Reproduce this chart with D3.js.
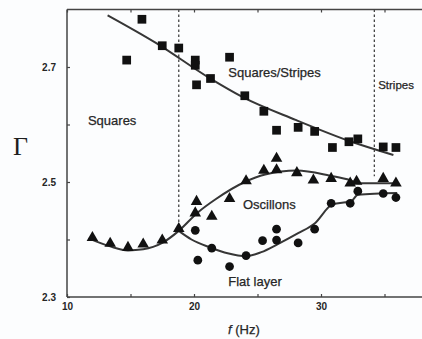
<!DOCTYPE html>
<html>
<head>
<meta charset="utf-8">
<script src="https://cdn.jsdelivr.net/npm/d3@7/dist/d3.min.js"></script>
<style>
  html, body { margin: 0; padding: 0; background: #fcfdfe; }
  svg { display: block; }
</style>
</head>
<body>
<svg id="chart" width="422" height="339"></svg>
<script>
// ---------- data ----------
const squaresF = [14.7, 15.9, 17.5, 18.8, 20.1, 20.1, 20.2, 21.3, 22.8, 24.0, 25.5, 26.5, 28.2, 29.5, 30.9, 32.2, 32.9, 34.9, 35.9];
const squaresG = [2.712, 2.783, 2.737, 2.733, 2.712, 2.703, 2.669, 2.680, 2.717, 2.650, 2.623, 2.590, 2.595, 2.588, 2.560, 2.570, 2.575, 2.561, 2.560];

const trianglesF = [12.0, 13.4, 14.8, 16.0, 17.5, 18.8, 20.1, 20.2, 21.4, 22.8, 24.1, 25.5, 26.5, 26.5, 28.1, 29.4, 30.8, 32.3, 32.8, 34.9, 35.9];
const trianglesG = [2.403, 2.393, 2.386, 2.392, 2.399, 2.419, 2.446, 2.466, 2.440, 2.471, 2.502, 2.520, 2.521, 2.541, 2.516, 2.503, 2.506, 2.498, 2.501, 2.506, 2.498];

const circlesF = [20.1, 20.3, 21.4, 22.8, 24.1, 25.4, 26.5, 26.5, 28.2, 29.5, 30.8, 32.3, 32.9, 34.9, 35.9];
const circlesG = [2.416, 2.364, 2.385, 2.353, 2.372, 2.398, 2.418, 2.399, 2.394, 2.418, 2.463, 2.463, 2.484, 2.480, 2.473];

// fitted curves
const squareFitF = [13.2, 17.0, 21.2, 23.8, 28.0, 32.4, 35.7];
const squareFitG = [2.790, 2.742, 2.681, 2.648, 2.608, 2.570, 2.547];

const upperFitF = [11.7, 13.4, 14.8, 16.0, 17.5, 18.8, 20.3, 21.7, 24.0, 25.6, 28.1, 30.7, 32.3, 32.9, 36.1];
const upperFitG = [2.402, 2.388, 2.381, 2.383, 2.394, 2.415, 2.447, 2.470, 2.500, 2.513, 2.520, 2.511, 2.503, 2.498, 2.498];

const lowerFitF = [18.8, 19.8, 21.3, 22.65, 24.1, 25.3, 26.6, 28.2, 29.5, 30.9, 32.4, 32.9, 36.0];
const lowerFitG = [2.415, 2.400, 2.386, 2.376, 2.371, 2.378, 2.392, 2.411, 2.428, 2.461, 2.467, 2.478, 2.481];

// phase boundaries (dashed): f position and lower end Γ
const boundaryF = [18.8, 34.2];
const boundaryG = [2.425, 2.510];

// region labels
const regionNames = ["Squares", "Squares/Stripes", "Stripes", "Oscillons", "Flat layer"];
const regionF = [11.65, 22.7, 34.5, 23.85, 22.7];
const regionG = [2.600, 2.683, 2.662, 2.453, 2.319];

// axes
const xDomain = [10, 40];
const yDomain = [2.3, 2.8];
const xTicks = [10, 15, 20, 25, 30, 35, 40];
const xTickLabels = [10, 20, 30];
const yTicks = [2.3, 2.4, 2.5, 2.6, 2.7];
const yTickLabels = [2.3, 2.5, 2.7];

// ---------- drawing ----------
const svg = d3.select("#chart");
const W = 422, H = 339;
const left = 67, bottom = 297;

const x = d3.scaleLinear().domain(xDomain).range([left, left + 30 * 12.7]);
const y = d3.scaleLinear().domain(yDomain).range([bottom, bottom - 0.5 * 575]);

svg.append("rect").attr("width", W).attr("height", H).attr("fill", "#fcfdfe");

const axisColor = "#444";
const textColor = "#262626";
const fontFam = "'Liberation Sans', Arial, Helvetica, sans-serif";

// frame lines
const xR = x(xDomain[1]);
svg.append("line").attr("x1", left).attr("x2", xR).attr("y1", y(yDomain[1])).attr("y2", y(yDomain[1]))
  .attr("stroke", axisColor).attr("stroke-width", 1.3);
svg.append("line").attr("x1", left).attr("x2", xR).attr("y1", bottom).attr("y2", bottom)
  .attr("stroke", axisColor).attr("stroke-width", 1.5);
svg.append("line").attr("x1", left).attr("x2", left).attr("y1", y(yDomain[1])).attr("y2", bottom)
  .attr("stroke", axisColor).attr("stroke-width", 1.5);

// axes
const gx = svg.append("g").attr("transform", `translate(0,${bottom})`)
  .call(d3.axisBottom(x).tickValues(xTicks).tickSize(-3).tickPadding(6)
    .tickFormat(d => xTickLabels.includes(d) ? d3.format("d")(d) : ""));
const gxTop = svg.append("g").attr("transform", `translate(0,${y(yDomain[1])})`)
  .call(d3.axisTop(x).tickValues(xTicks).tickSize(-3).tickFormat(""));
const gy = svg.append("g").attr("transform", `translate(${left},0)`)
  .call(d3.axisLeft(y).tickValues(yTicks).tickSize(-3).tickPadding(11)
    .tickFormat(d => yTickLabels.some(v => Math.abs(v - d) < 1e-9) ? d3.format(".1f")(d) : ""));

[gx, gxTop, gy].forEach(g => {
  g.select(".domain").remove();
  g.selectAll(".tick line").attr("stroke", axisColor).attr("stroke-width", 1.2);
  g.selectAll(".tick text").attr("fill", textColor).attr("font-family", fontFam)
    .attr("font-size", 10).attr("font-weight", "bold");
});

// dashed phase boundaries
boundaryF.forEach((f, i) => {
  svg.append("line").attr("x1", x(f)).attr("x2", x(f))
    .attr("y1", y(yDomain[1])).attr("y2", y(boundaryG[i]))
    .attr("stroke", "#444").attr("stroke-width", 1.3).attr("stroke-dasharray", "2.5,2.5");
});

// fit curves
const line = d3.line().x(d => x(d[0])).y(d => y(d[1])).curve(d3.curveMonotoneX);
const fits = [[squareFitF, squareFitG], [upperFitF, upperFitG], [lowerFitF, lowerFitG]];
fits.forEach(([fs, gs]) => {
  svg.append("path").datum(fs.map((f, i) => [f, gs[i]]))
    .attr("d", line).attr("fill", "none").attr("stroke", "#363636").attr("stroke-width", 2);
});

// markers
const markColor = "#111";
function drawMarks(fs, gs, type, size) {
  svg.append("g").selectAll("path").data(fs.map((f, i) => [f, gs[i]])).join("path")
    .attr("transform", d => `translate(${x(d[0])},${y(d[1])})`)
    .attr("d", d3.symbol().type(type).size(size))
    .attr("fill", markColor);
}
drawMarks(squaresF, squaresG, d3.symbolSquare, 76);
drawMarks(trianglesF, trianglesG, d3.symbolTriangle, 58);
drawMarks(circlesF, circlesG, d3.symbolCircle, 60);

// region labels
regionNames.forEach((name, i) => {
  svg.append("text").attr("x", x(regionF[i])).attr("y", y(regionG[i]))
    .attr("font-family", fontFam).attr("font-size", name === "Stripes" ? 11.5 : 13)
    .attr("fill", textColor).attr("stroke", textColor).attr("stroke-width", 0.25)
    .text(name);
});

// axis titles
svg.append("text").attr("x", 13).attr("y", 155)
  .attr("font-family", "'Liberation Serif', 'Times New Roman', serif").attr("font-size", 26)
  .attr("fill", "#1e1e1e").text("Γ");

const xt = svg.append("text").attr("x", 228).attr("y", 334)
  .attr("font-family", fontFam).attr("font-size", 13).attr("fill", textColor)
  .attr("stroke", textColor).attr("stroke-width", 0.25);
xt.append("tspan").attr("font-style", "italic").text("f");
xt.append("tspan").text(" (Hz)");
</script>
</body>
</html>
